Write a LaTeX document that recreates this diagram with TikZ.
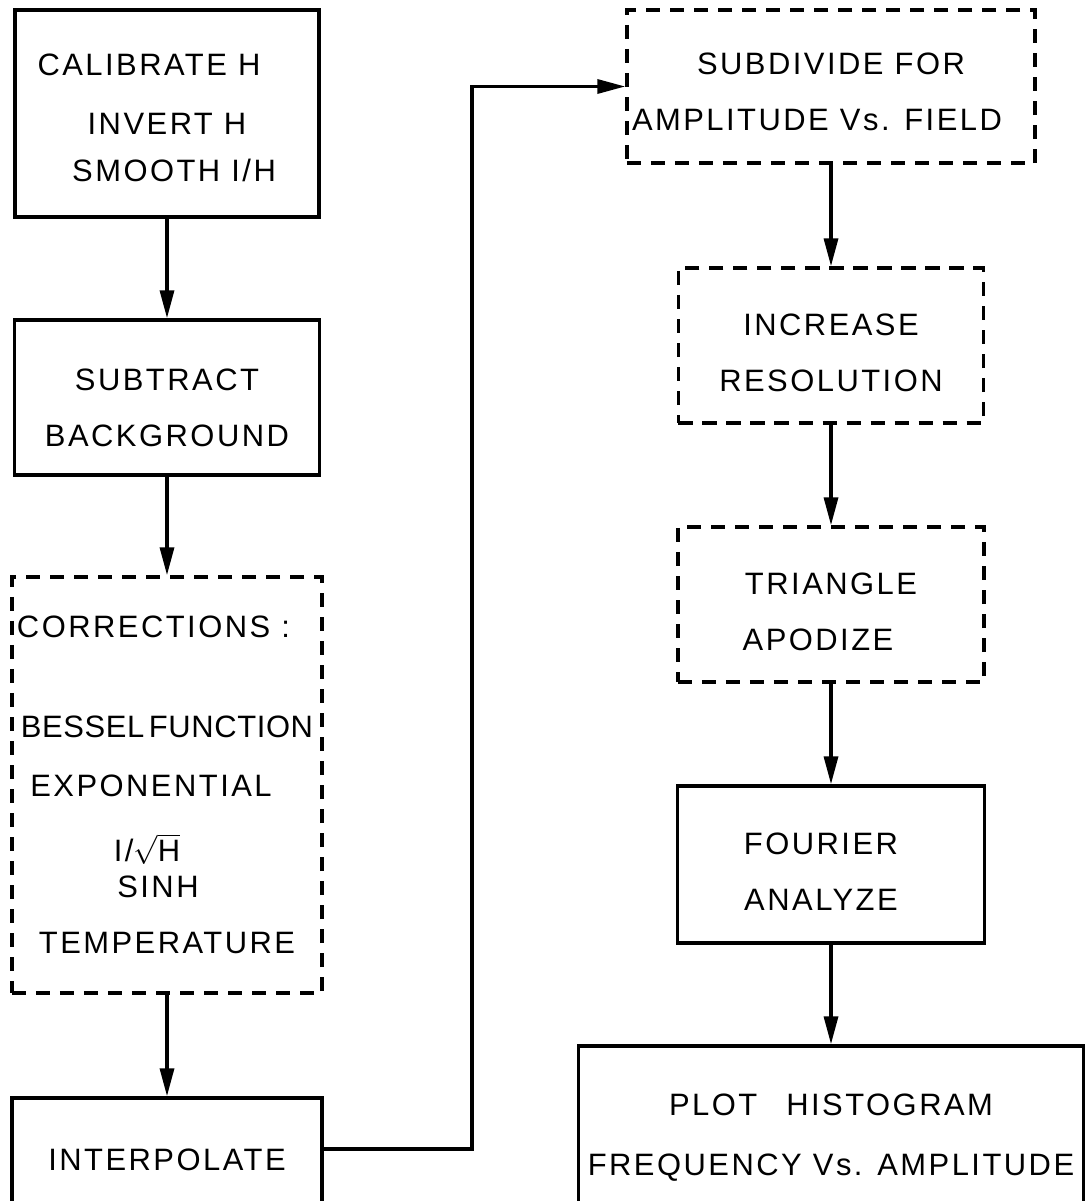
\documentclass[tikz,border=0pt]{standalone}
\usepackage{fontspec}
\setmainfont{Liberation Sans}[LetterSpace=8]
\newfontfamily\tight{Liberation Sans}[LetterSpace=2]
\usetikzlibrary{arrows.meta}
\newcommand{\pad}[1]{\rule{#1}{0pt}}
\newcommand{\lift}[1]{\rule{0pt}{#1}}

\begin{document}
\begin{tikzpicture}[x=0.025cm, y=-0.025cm, line width=2.4pt,
	font=\fontsize{22}{40}\selectfont,
	box/.style={draw, align=center, inner sep=1pt},
	dbox/.style={box, dash pattern=on 0.36cm off 0.24cm},
	arr/.style={-{Triangle[length=0.7cm, width=0.35cm]}}]
	\useasboundingbox (0,0) rectangle (1088,1201);
	\clip (0,0) rectangle (1088,1201);
	\node[box, minimum width=7.6cm, minimum height=5.175cm] (calib) at (167,113.5) {\lift{21.5pt}CALIBRATE H\pad{0.9cm}\\[2pt] INVERT H\\[-7pt] \pad{0.35cm}SMOOTH I/H};
	\node[box, minimum width=7.625cm, minimum height=3.875cm] (subtr) at (167,397.5) {\lift{30pt}SUBTRACT\\BACKGROUND};
	\node[dbox, minimum width=7.75cm, minimum height=10.4cm] (corr) at (167,785) {CORRECTIONS :\pad{0.675cm}\\[31pt] {\tight BESSEL\hspace{-0.15em} FUNCTION}\\[2pt] EXPONENTIAL\pad{0.8cm}\\[6pt] I/\(\sqrt{\mbox{H}}\)\pad{1cm}\\[-14pt] SINH\pad{0.45cm}\\ TEMPERATURE};
	\node[box, minimum width=7.75cm, minimum height=3.1cm] (interp) at (167,1160) {INTERPOLATE};
	\node[dbox, minimum width=10.2cm, minimum height=3.825cm] (subdiv) at (831,86.5) {\lift{23pt}SUBDIVIDE FOR\\AMPLITUDE Vs. FIELD\pad{0.7cm}};
	\node[dbox, minimum width=7.625cm, minimum height=3.875cm] (incr) at (831,345.5) {\lift{26pt}INCREASE\\RESOLUTION};
	\node[dbox, minimum width=7.65cm, minimum height=3.875cm] (tri) at (831,604.5) {\lift{26pt}TRIANGLE\\APODIZE\pad{0.65cm}};
	\node[box, minimum width=7.675cm, minimum height=3.925cm] (fourier) at (831,864.5) {\lift{26pt}FOURIER\pad{0.5cm}\\ANALYZE\pad{0.5cm}};
	\node[box, minimum width=12.625cm, minimum height=4.6cm] (plot) at (831,1138) {PLOT \hspace{0.45cm}HISTOGRAM\\[2.7pt] FREQUENCY Vs. AMPLITUDE};
	\coordinate (riser) at (472,87);
	\draw[arr] (calib) -- (subtr);
	\draw[arr] (subtr) -- (corr);
	\draw[arr] (corr) -- (interp);
	\draw[arr] ([yshift=0.275cm]interp.east) -| (riser) |- (subdiv.west);
	\draw[arr] (subdiv) -- (incr);
	\draw[arr] (incr) -- (tri);
	\draw[arr] (tri) -- (fourier);
	\draw[arr] (fourier) -- (plot);
\end{tikzpicture}
\end{document}
